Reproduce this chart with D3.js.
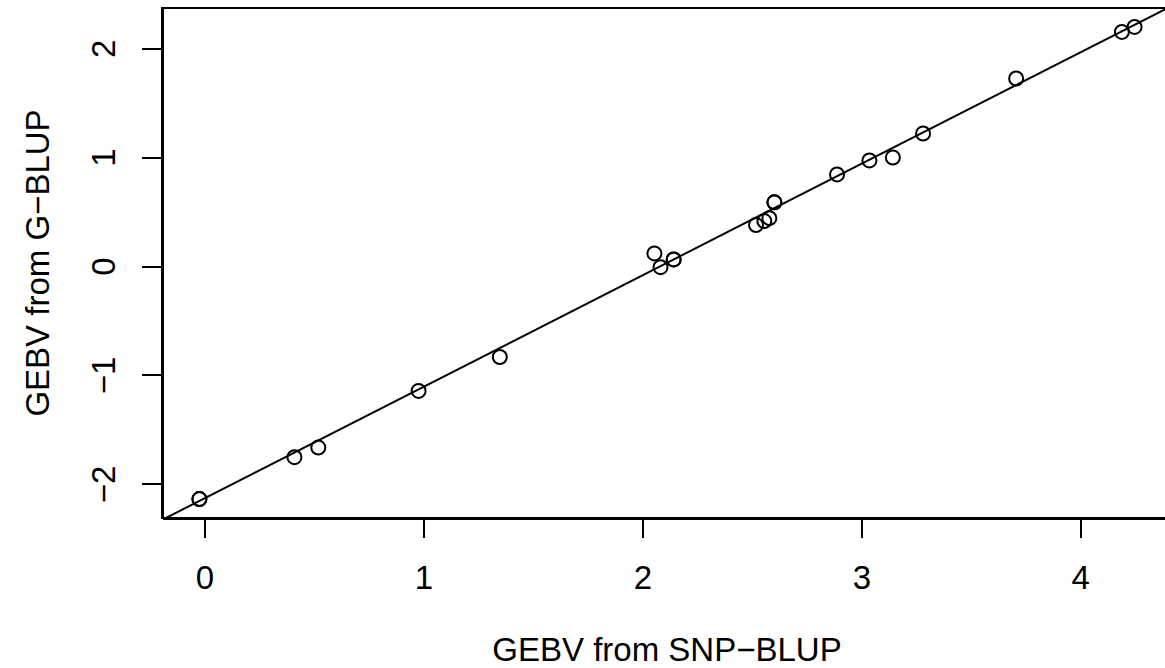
<!DOCTYPE html>
<html lang="en">
<head>
    <meta charset="utf-8">
    <title>GEBV: SNP-BLUP vs G-BLUP</title>
    <script src="https://d3js.org/d3.v7.min.js"></script>
    <style>
      body {
        margin: 0px;
        padding: 0px;
        background: #fff;
      }
      svg {
        display: block;
        background: #fff;
      }
      text {
        font-family: "Liberation Sans", Arial, Helvetica, sans-serif;
        font-size: 33px;
        fill: #000;
      }
      .frame,
      .axis line,
      .axis path {
        fill: none;
        stroke: #000;
        stroke-width: 2px;
        shape-rendering: crispEdges;
      }
      .fit {
        fill: none;
        stroke: #000;
        stroke-width: 2px;
      }
      .pt {
        fill: none;
        stroke: #000;
        stroke-width: 2px;
      }
    </style>
</head>
<body>
<script type="text/javascript">
// GEBV values
var snpBlup = [-0.023, -0.023, 0.411, 0.52, 0.978, 1.349, 2.055, 2.083, 2.143, 2.143,
               2.519, 2.557, 2.58, 2.603, 2.603, 2.889, 3.037, 3.144, 3.282, 3.707,
               4.19, 4.248];
var gBlup   = [-2.14, -2.14, -1.755, -1.667, -1.147, -0.835, 0.116, -0.01, 0.061, 0.061,
               0.376, 0.413, 0.44, 0.585, 0.585, 0.841, 0.97, 0.997, 1.217, 1.722,
               2.15, 2.196];

var xTicks = [0, 1, 2, 3, 4];
var yTicks = [-2, -1, 0, 1, 2];
var xLabel = "GEBV from SNP\u2212BLUP";
var yLabel = "GEBV from G\u2212BLUP";

// abline(intercept, slope)
var fitCoef = [-2.133, 1.0236];

var width = 1165;
var height = 668;
var plot = {left: 162, right: 1172, top: 8, bottom: 518};

// R style 4% range extension
function pad(ext) {
    var d = (ext[1] - ext[0]) * 0.04;
    return [ext[0] - d, ext[1] + d];
}

var x = d3.scaleLinear().domain(pad(d3.extent(snpBlup))).range([plot.left, plot.right]);
var y = d3.scaleLinear().domain(pad(d3.extent(gBlup))).range([plot.bottom, plot.top]);

// integer labels with a real minus sign
var fmt = d3.format("d");

var svg = d3.select("body").append("svg")
    .attr("width", width)
    .attr("height", height);

svg.append("defs").append("clipPath")
    .attr("id", "plotclip")
  .append("rect")
    .attr("x", plot.left)
    .attr("y", plot.top)
    .attr("width", plot.right - plot.left)
    .attr("height", plot.bottom - plot.top);

// fitted line, clipped to plot region
var xd = x.domain();
svg.append("line")
    .attr("class", "fit")
    .attr("clip-path", "url(#plotclip)")
    .attr("x1", x(xd[0]))
    .attr("y1", y(fitCoef[0] + fitCoef[1] * xd[0]))
    .attr("x2", x(xd[1]))
    .attr("y2", y(fitCoef[0] + fitCoef[1] * xd[1]));

// points (pch = 1)
svg.append("g").selectAll("circle")
    .data(snpBlup)
    .enter()
    .append("circle")
    .attr("class", "pt")
    .attr("cx", function(d) { return x(d); })
    .attr("cy", function(d, i) { return y(gBlup[i]); })
    .attr("r", 7);

// axes
var xAxis = svg.append("g")
    .attr("class", "axis")
    .attr("transform", "translate(0," + plot.bottom + ")")
    .call(d3.axisBottom(x).tickValues(xTicks).tickFormat(fmt)
        .tickSize(20).tickSizeOuter(0).tickPadding(28));

var yAxis = svg.append("g")
    .attr("class", "axis")
    .attr("transform", "translate(" + plot.left + ",0)")
    .call(d3.axisLeft(y).tickValues(yTicks).tickFormat(fmt)
        .tickSize(20).tickSizeOuter(0));
yAxis.selectAll("text")
    .attr("x", null)
    .attr("dy", null)
    .attr("text-anchor", "middle")
    .attr("transform", "translate(-47,0) rotate(-90)");
svg.selectAll(".axis").attr("font-family", null).attr("font-size", null);

// box()
svg.append("rect")
    .attr("class", "frame")
    .attr("x", plot.left)
    .attr("y", plot.top)
    .attr("width", plot.right - plot.left)
    .attr("height", plot.bottom - plot.top);

// axis titles
svg.append("text")
    .attr("x", (plot.left + plot.right) / 2)
    .attr("y", 661)
    .style("text-anchor", "middle")
    .text(xLabel);

svg.append("text")
    .attr("transform", "translate(49," + (plot.top + plot.bottom) / 2 + ") rotate(-90)")
    .style("text-anchor", "middle")
    .text(yLabel);
</script>
</body>
</html>
